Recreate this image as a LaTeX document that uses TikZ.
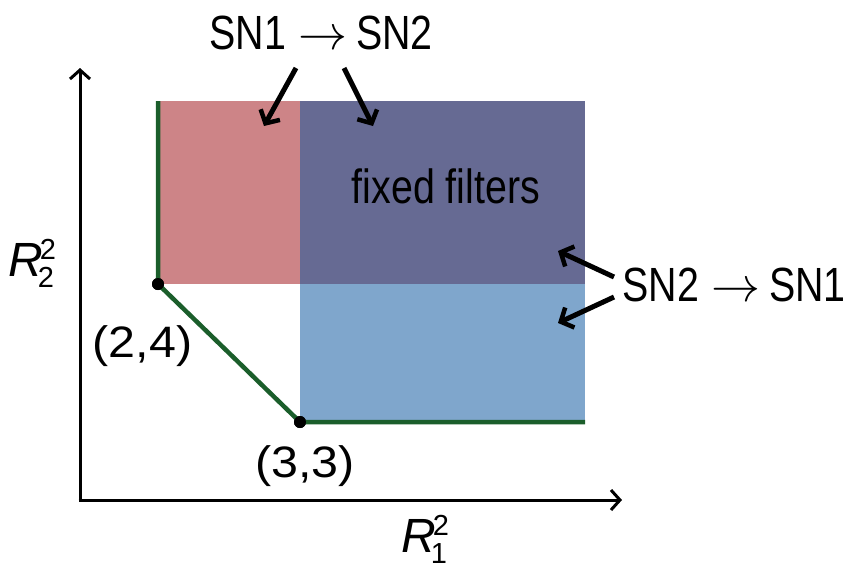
\documentclass[tikz,border=0pt]{standalone}
\usepackage{graphicx}
\usepackage{fontspec}
\setmainfont{Liberation Sans}
\usetikzlibrary{arrows.meta}
\definecolor{pinkreg}{HTML}{CD8487}
\definecolor{darkreg}{HTML}{666A93}
\definecolor{lightreg}{HTML}{7FA6CC}
\definecolor{bound}{HTML}{1B5E2B}
% italic R with a stacked sub- and superscript
\newcommand{\rvar}[1]{\textit{R}\kern-5pt\makebox[0pt][l]{\raisebox{-11pt}{\fontsize{29}{29}\selectfont #1}}\kern2pt\raisebox{17pt}{\fontsize{29}{29}\selectfont 2}}
% narrow and wide sans text
\newcommand{\narrow}[1]{\scalebox{0.82}[1]{#1}}
\newcommand{\wide}[1]{\scalebox{1.1}[1]{#1}}
% thin arrow, the 10pt math glyph enlarged to the label size
\newcommand{\rto}{\hspace{12pt}\scalebox{4.9}{\normalsize$\rightarrow$}\hspace{9pt}}
\begin{document}
\begin{tikzpicture}[x=1pt,y=-1pt,
  axis/.style={line width=3pt,-{Straight Barb[length=9pt,width=20pt,line width=3pt]}},
  pointer/.style={line width=5pt,-{Straight Barb[length=10pt,width=22pt,line width=4.5pt]}},
  lbl/.style={inner sep=0pt,anchor=base,font=\fontsize{48}{48}\selectfont},
  coord/.style={inner sep=0pt,anchor=base,font=\fontsize{44}{44}\selectfont},
  dot/.style={circle,fill=black,inner sep=0pt,minimum size=12pt}]
\useasboundingbox (0,0) rectangle (846,566);
% regions
\fill[pinkreg] (158,101) rectangle (300,284);
\fill[darkreg] (300,101) rectangle (585,284);
\fill[lightreg] (300,284) rectangle (585,422);
% axes
\coordinate (o) at (80,500);
\coordinate (ytop) at (80,68);
\coordinate (xend) at (622,500);
\draw[axis] (o) -- (ytop);
\draw[axis] ([xshift=-1.5pt]o) -- (xend);
% boundary
\coordinate (top) at (158,101);
\coordinate (right) at (585,422);
\node[dot] (p24) at (158,284) {};
\node[dot] (p33) at (300,422) {};
\draw[bound,line width=4.5pt] (top) -- (p24.center) -- (p33.center) -- (right);
\node[dot] at (p24) {};
\node[dot] at (p33) {};
% labels
\node[lbl] (top lbl) at (321,49) {\narrow{SN1}\rto\narrow{SN2}};
\node[lbl] (side lbl) at (734,301) {\narrow{SN2}\rto\narrow{SN1}};
\node[lbl] (ff) at (446,203) {\narrow{fixed filters}};
\node[coord] (l24) at (142.5,357) {\wide{(2,4)}};
\node[coord] (l33) at (305,477) {\wide{(3,3)}};
\node[lbl,anchor=base west] (ry) at (8,276) {\rvar{2}};
\node[lbl,anchor=base west] (rx) at (401,552) {\rvar{1}};
% pointers
\coordinate (a1) at (264,126);
\coordinate (a2) at (373,126);
\coordinate (a3) at (558,251);
\coordinate (a4) at (558,323);
\draw[pointer] (296,68) -- (a1);
\draw[pointer] (344,68) -- (a2);
\draw[pointer] (614,277) -- (a3);
\draw[pointer] (614,297) -- (a4);
\end{tikzpicture}
\end{document}
